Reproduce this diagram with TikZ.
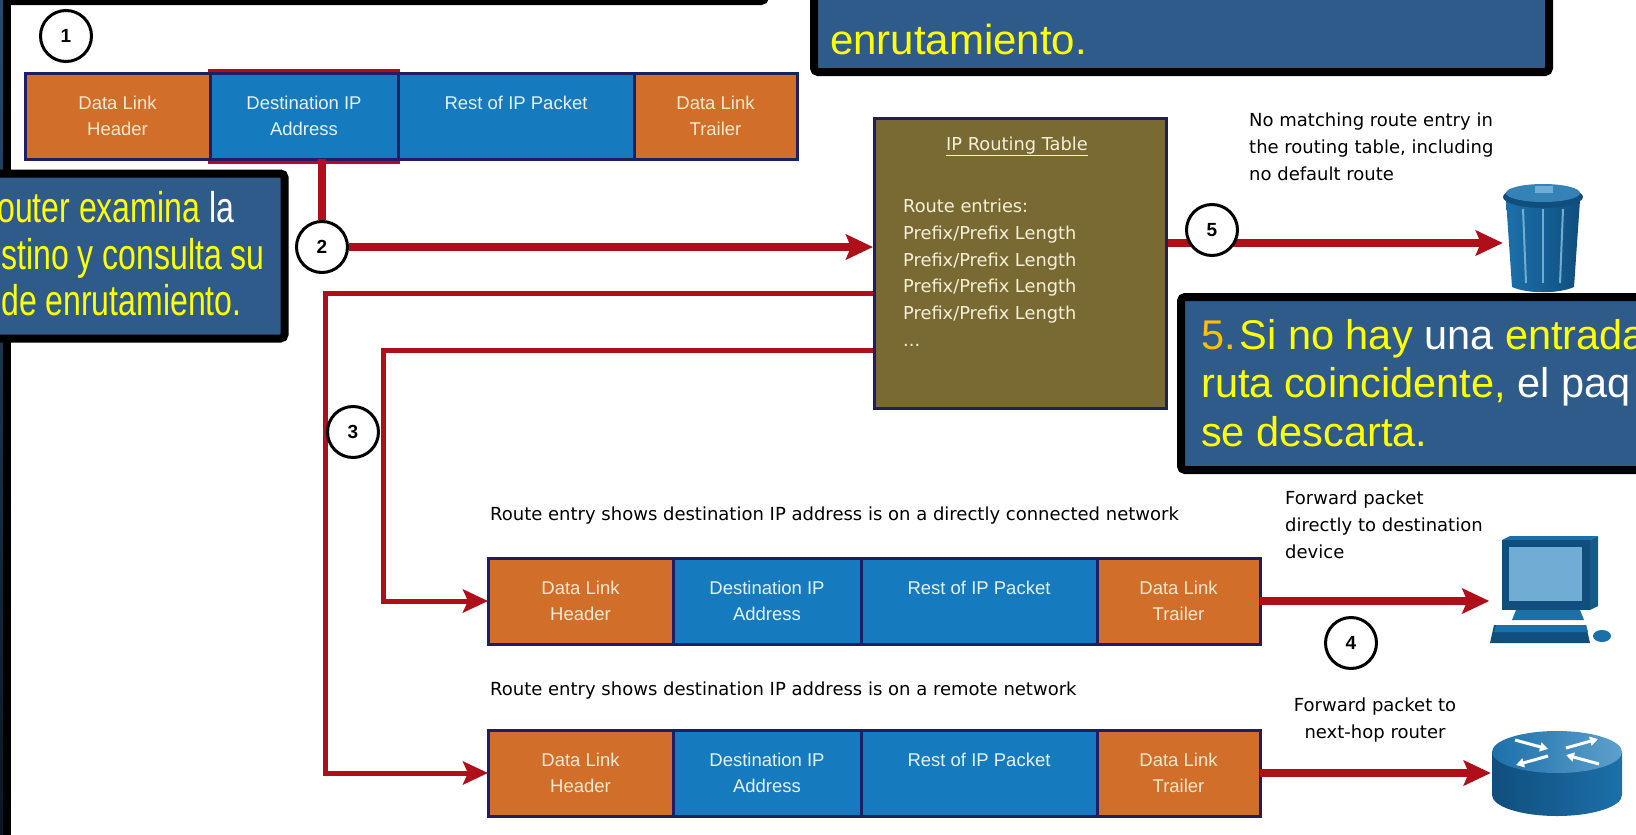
\documentclass[tikz,border=0pt]{standalone}
\usepackage{fontspec}
\setmainfont{Liberation Sans}
\newfontfamily\narrowfont[FakeStretch=0.745]{Liberation Sans}
\newfontfamily\labelfont{DejaVu Sans}
\usetikzlibrary{arrows.meta,positioning}

\definecolor{hdrorange}{RGB}{209,111,42}
\definecolor{ipblue}{RGB}{22,122,190}
\definecolor{framenavy}{RGB}{30,30,100}
\definecolor{routered}{RGB}{175,15,25}
\definecolor{tableolive}{RGB}{121,106,51}
\definecolor{boxblue}{RGB}{46,91,138}
\definecolor{stripblue}{RGB}{40,78,115}
\definecolor{stripdark}{RGB}{8,18,28}
\definecolor{hiyellow}{RGB}{255,255,0}
\definecolor{numorange}{RGB}{255,192,0}
\definecolor{cellcream}{RGB}{250,232,205}
\definecolor{celltext}{RGB}{228,242,252}
\definecolor{tabtext}{RGB}{245,240,215}
\definecolor{iconblue}{RGB}{28,112,170}
\definecolor{icondark}{RGB}{16,78,125}
\definecolor{iconlight}{RGB}{112,172,212}

% one frame: header, destination address, rest of packet, trailer
\newcommand{\ippacket}[2]{%
  \node[hdrcell, minimum width=185pt, anchor=north west] (#1h) at (#2) {Data Link\\Header};
  \node[ipcell, minimum width=188pt, right=0pt of #1h] (#1d) {Destination IP\\Address};
  \node[ipcell, minimum width=236pt, right=0pt of #1d] (#1r) {Rest of IP Packet\\\mbox{}};
  \node[hdrcell, minimum width=163pt, right=0pt of #1r] (#1t) {Data Link\\Trailer};
}

\begin{document}
\begin{tikzpicture}[x=1pt, y=-1pt,
    cell/.style={draw=framenavy, line width=3pt, minimum height=86pt, inner sep=0pt, outer sep=0pt,
      align=center, font=\fontsize{18.5}{26}\selectfont},
    hdrcell/.style={cell, fill=hdrorange, text=cellcream},
    ipcell/.style={cell, fill=ipblue, text=celltext},
    stepnum/.style={circle, draw=black, line width=3pt, fill=white, minimum size=51pt,
      inner sep=0pt, font=\bfseries\fontsize{19}{19}\selectfont},
    bigarrow/.style={draw=routered, line width=8pt, -{Stealth[length=27pt, width=25pt, inset=5pt]}},
    thinarrow/.style={draw=routered, line width=5pt, -{Stealth[length=25pt, width=23pt, inset=5pt]}},
    callout/.style={draw=black, line width=8pt, fill=boxblue, rounded corners=4pt},
    note/.style={font=\labelfont\fontsize{18}{27}\selectfont, align=left, inner sep=0pt},
    tabletext/.style={font=\labelfont\fontsize{17.8}{26.7}\selectfont, text=tabtext,
      align=left, inner sep=0pt},
    lookupline/.style={anchor=base west, inner sep=0pt, text=hiyellow,
      font=\narrowfont\fontsize{43}{46}\selectfont}]

  \useasboundingbox (0,0) rectangle (1636,835);
  \clip (0,0) rectangle (1636,835);
  \fill[white] (0,0) rectangle (1636,835);

  % boxes running off the left and top
  \draw[callout] (-60,-100) rectangle (765,1);
  \path[draw=black, line width=8pt, top color=stripblue, bottom color=stripdark] (-60,-40) rectangle (7,900);
  \draw[callout] (814,-100) rectangle (1549,72);
  \node[anchor=base west, inner sep=0pt, text=hiyellow, font=\fontsize{42}{48}\selectfont] (topline) at (830,54) {enrutamiento.};

  % received frame
  \fill[routered] (208,69) rectangle (400,164);
  \ippacket{rx}{25,73}
  \node[stepnum] (s1) at (66,36) {1};

  % routing table
  \node[draw=framenavy, line width=3pt, fill=tableolive, minimum width=292pt, minimum height=290pt,
    inner sep=0pt, anchor=north west] (rt) at (873,117) {};
  \node[tabletext, anchor=base] (rttitle) at (1017,150) {\underline{IP Routing Table}};
  \node[tabletext, anchor=north west] (rtlist) at (903,199)
    {Route entries:\\Prefix/Prefix Length\\Prefix/Prefix Length\\Prefix/Prefix Length\\Prefix/Prefix Length\\...};

  % lookup
  \node[stepnum] (s2) at (322,247) {2};
  \draw[routered, line width=8pt] (rxd.south -| s2) -- (s2);
  \draw[bigarrow] (s2.east) -- (s2.east -| rt.west);

  % outgoing frames
  \node[note, anchor=base west] (directtxt) at (490,520) {Route entry shows destination IP address is on a directly connected network};
  \ippacket{fd}{488,558}
  \node[note, anchor=base west] (remotetxt) at (490,695) {Route entry shows destination IP address is on a remote network};
  \ippacket{fr}{488,730}

  % matching entries
  \coordinate (bendout) at (325,293);
  \coordinate (bendin) at (383,350);
  \draw[thinarrow] (bendout -| rt.west) -- (bendout) |- (frh.west);
  \draw[thinarrow] (bendin -| rt.west) -- (bendin) |- (fdh.west);
  \node[stepnum] (s3) at (353,432) {3};

  % no match: drop
  \node[minimum width=80pt, minimum height=106pt, inner sep=0pt] (bin) at (1543,243) {};
  \draw[bigarrow] (rt.east |- bin.west) -- (bin.west);
  \node[stepnum] (s5) at (1212,230) {5};
  \node[note, anchor=north west] (nomatch) at (1249,113) {No matching route entry in\\the routing table, including\\no default route};
  \begin{scope}[shift={(bin.center)}]
    \shade[left color=iconblue, right color=icondark] (-37,-43) -- (-31,44) .. controls (-15,51) and (15,51) .. (31,44) -- (37,-43) -- cycle;
    \foreach \rx in {-20,0,20}
      \draw[iconlight, line width=2pt] (\rx,-34) -- (0.85*\rx,40);
    \fill[icondark] (0,-46) ellipse [x radius=40pt, y radius=11pt];
    \fill[iconblue!70!iconlight] (0,-50) ellipse [x radius=37pt, y radius=9pt];
    \fill[iconlight] (-8,-57) rectangle (10,-50);
  \end{scope}

  % delivery
  \node[minimum width=125pt, minimum height=106pt, inner sep=0pt] (host) at (1552,598) {};
  \draw[bigarrow] (fdt.east) -- (fdt.east -| host.west);
  \node[minimum width=132pt, minimum height=86pt, inner sep=0pt] (nexthop) at (1557,775) {};
  \draw[bigarrow] (frt.east) -- (frt.east -| nexthop.west);
  \node[stepnum] (s4) at (1351,643) {4};
  \node[note, anchor=north west] (directnote) at (1285,491) {Forward packet\\directly to destination\\device};
  \node[note, align=center, anchor=north] (hopnote) at (1375,698) {Forward packet to\\next-hop router};

  \begin{scope}[shift={(host.center)}]
    \fill[iconblue!80!black] (38,-58) -- (46,-62) -- (46,8) -- (38,12) -- cycle;
    \fill[iconblue] (-50,-58) -- (-42,-62) -- (46,-62) -- (38,-58) -- cycle;
    \fill[icondark] (-50,-58) rectangle (38,12);
    \fill[iconlight] (-43,-51) rectangle (30,3);
    \fill[iconblue] (-36,12) -- (28,12) -- (32,22) -- (-40,22) -- cycle;
    \fill[icondark] (-58,27) -- (34,27) -- (38,45) -- (-62,45) -- cycle;
    \fill[iconblue] (-56,27) -- (34,27) -- (36,34) -- (-58,34) -- cycle;
    \fill[iconblue] (50,38) ellipse [x radius=9pt, y radius=6pt];
  \end{scope}

  \begin{scope}[shift={(nexthop.center)}]
    \shade[left color=icondark, right color=iconblue] (-65,-23) -- (-65,20)
      arc[start angle=180, end angle=360, x radius=65pt, y radius=21pt] -- (65,-23) -- cycle;
    \shade[left color=iconblue, right color=iconlight!80!iconblue] (0,-23) ellipse [x radius=65pt, y radius=21pt];
    \foreach \ax/\ay/\bx/\by in {-42/-35/-9/-26, 42/-11/9/-20, 9/-27/41/-36, -9/-19/-41/-10}
      \draw[white, line width=3pt, -{Triangle[length=8pt, width=9pt]}] (\ax,\ay) -- (\bx,\by);
  \end{scope}

  % step 2 callout
  \draw[callout] (-60,173.5) rectangle (284.5,338.5);
  \node[lookupline] (lookup1) at (-3,222) {outer examina \textcolor{white}{la}};
  \node[lookupline] (lookup2) at (1,269) {stino y consulta su};
  \node[lookupline] (lookup3) at (1,315) {de enrutamiento.};

  % step 5 callout
  \draw[callout] (1181,297) rectangle (1700,470);
  \node[anchor=north west, align=left, inner sep=0pt, text=white, font=\fontsize{41.5}{48.5}\selectfont] (dropnote) at (1201,319)
    {\textcolor{numorange}{5.}\kern4pt\textcolor{hiyellow}{Si no hay} una \textcolor{hiyellow}{entrada}\\
     \textcolor{hiyellow}{ruta coincidente,} el paq\\
     \textcolor{hiyellow}{se descarta.}};
\end{tikzpicture}
\end{document}
